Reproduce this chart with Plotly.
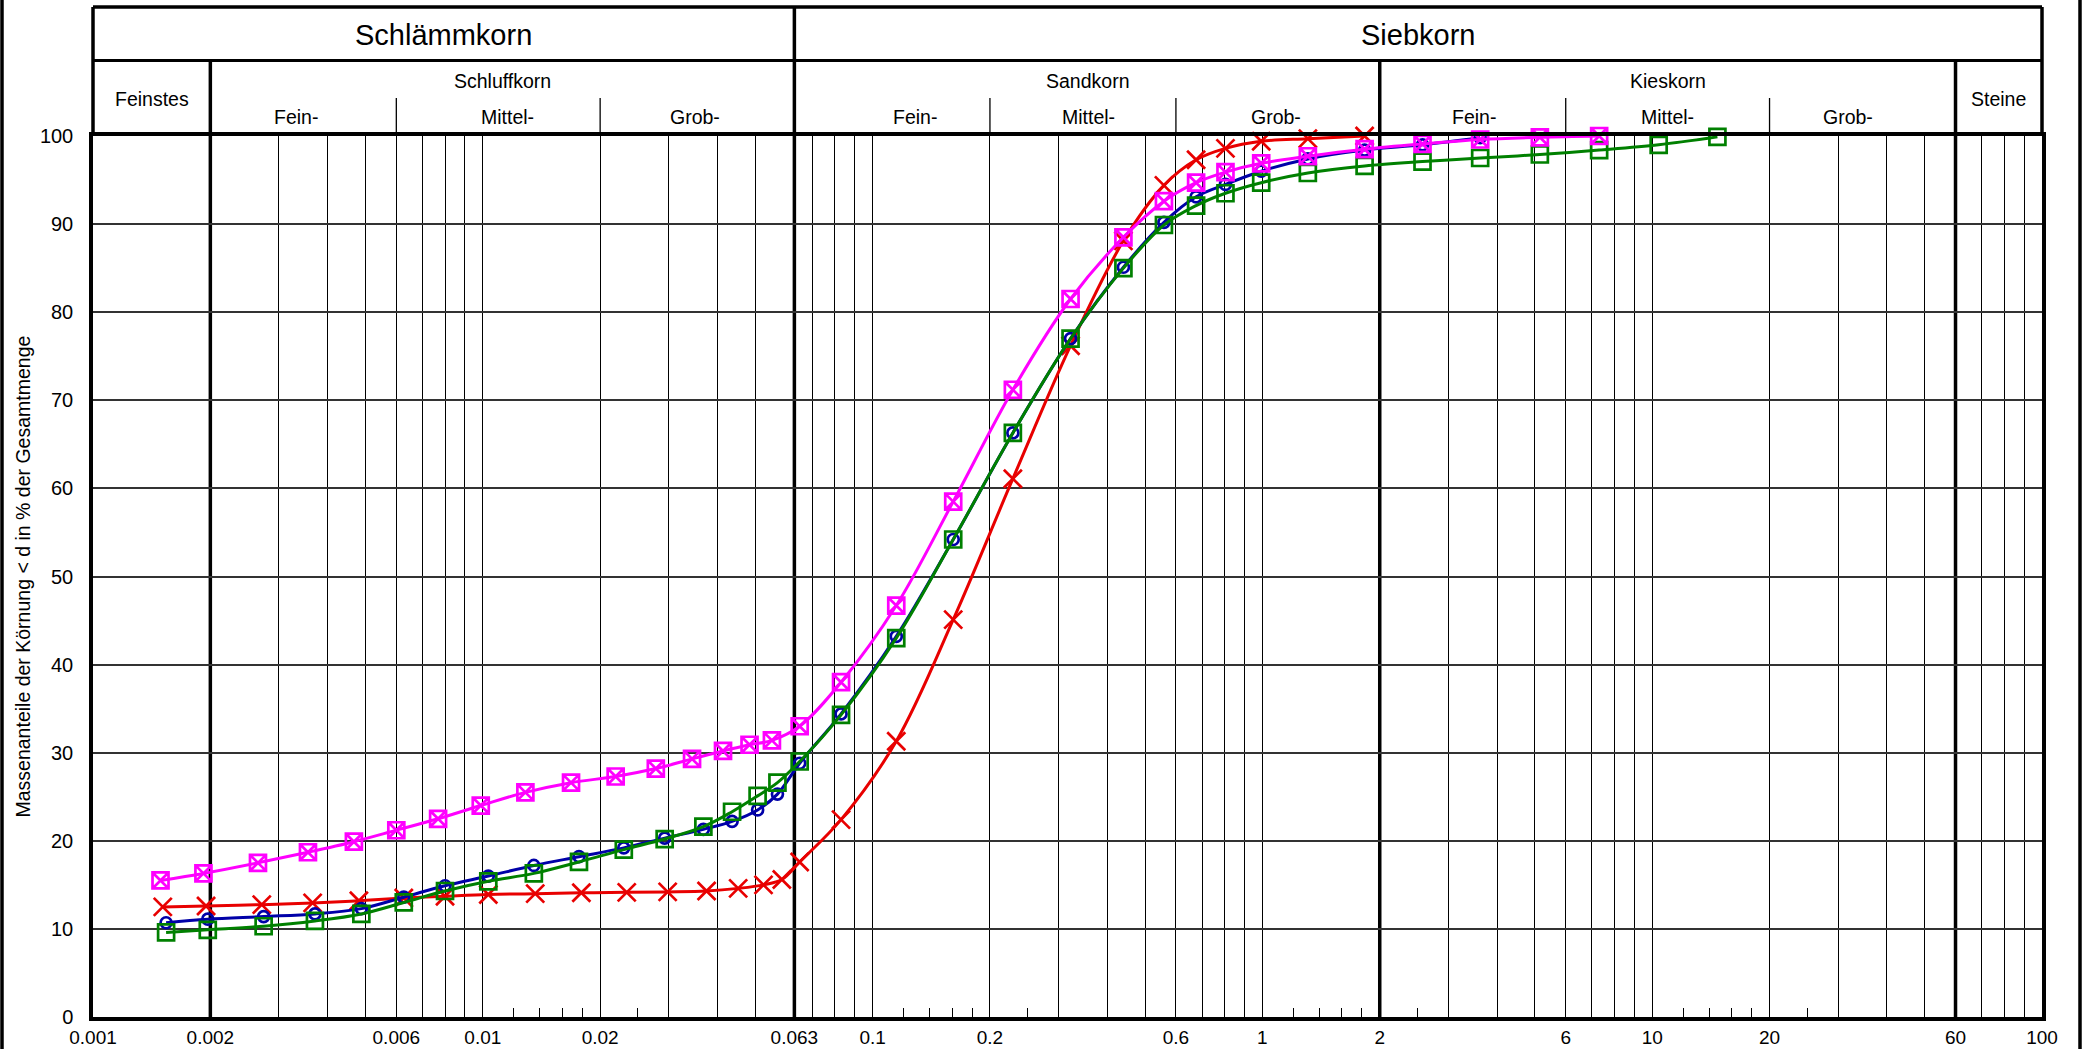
import math
import plotly.graph_objects as go

# ---------------------------------------------------------------- data
# hydrometer (Schlämmanalyse) grain diameters in mm
hydro_red = [0.00151, 0.00195, 0.00271, 0.00366, 0.00481, 0.00627, 0.0080, 0.01033,
             0.01363, 0.0179, 0.0234, 0.0298, 0.0375, 0.0452, 0.0525, 0.0585]
hydro_magenta = [0.00149, 0.00192, 0.00265, 0.00356, 0.00467, 0.0060, 0.00768, 0.00988,
                 0.01286, 0.01684, 0.02192, 0.02779, 0.03442, 0.04133, 0.04834, 0.05517]
hydro_blue_green = [0.00154, 0.00197, 0.00274, 0.00371, 0.00488, 0.00627, 0.0080, 0.01033,
                    0.01352, 0.01765, 0.0230, 0.02928, 0.0368, 0.0436, 0.0507, 0.0570]

# sieve (Siebanalyse) mesh sizes in mm
sieve_sizes = [0.065, 0.083, 0.115, 0.161, 0.229, 0.322, 0.44, 0.559, 0.676, 0.804,
               0.993, 1.308, 1.829, 2.575, 3.62, 5.15, 7.31, 10.39, 14.7]

# passing percentages (Massenanteile < d in %)
pass_red = [12.5, 12.6, 12.75, 12.95, 13.2, 13.5, 13.7, 13.9, 14.0, 14.1, 14.15, 14.2,
            14.3, 14.6, 15.0, 15.6,
            17.6, 22.4, 31.3, 45.1, 61.1, 76.2, 88.1, 94.4, 97.3, 98.6, 99.4, 99.7, 100.0]
pass_magenta = [15.5, 16.3, 17.5, 18.7, 19.9, 21.2, 22.5, 24.0, 25.5, 26.6, 27.3, 28.2,
                29.3, 30.2, 30.9, 31.4,
                33.0, 38.0, 46.7, 58.5, 71.2, 81.5, 88.5, 92.6, 94.7, 95.9, 96.9, 97.7,
                98.5, 99.1, 99.6, 99.85, 100.0]
pass_blue = [10.7, 11.1, 11.4, 11.7, 12.3, 13.6, 14.9, 16.0, 17.2, 18.2, 19.2, 20.3,
             21.3, 22.2, 23.5, 25.3,
             28.8, 34.4, 43.2, 54.2, 66.3, 77.0, 85.1, 90.2, 93.1, 94.5, 96.0, 97.4,
             98.4, 99.0, 99.8]
pass_green = [9.6, 9.9, 10.3, 10.9, 11.7, 13.0, 14.3, 15.4, 16.3, 17.6, 19.0, 20.2,
              21.6, 23.3, 25.1, 26.6,
              29.0, 34.3, 43.0, 54.2, 66.3, 77.0, 85.0, 89.9, 92.1, 93.5, 94.7, 95.8,
              96.6, 97.1, 97.5, 97.9, 98.4, 99.0, 99.9]

# x axis: labelled values, grid lines and small ticks
x_labels = [0.001, 0.002, 0.006, 0.01, 0.02, 0.063, 0.1, 0.2, 0.6, 1, 2, 6, 10, 20, 60, 100]
x_label_text = ["0.001", "0.002", "0.006", "0.01", "0.02", "0.063", "0.1", "0.2", "0.6",
                "1", "2", "6", "10", "20", "60", "100"]
x_grid = [0.003, 0.004, 0.005, 0.006, 0.007, 0.008, 0.009,
          0.01, 0.02, 0.03, 0.04, 0.05, 0.07, 0.08, 0.09,
          0.1, 0.2, 0.3, 0.4, 0.5, 0.6, 0.7, 0.8, 0.9,
          1, 3, 4, 5, 6, 7, 8, 9,
          10, 20, 30, 40, 50, 70, 80, 90]
x_small_ticks = [0.012, 0.014, 0.016, 0.018, 0.025, 0.12, 0.14, 0.16, 0.18, 0.25,
                 1.2, 1.4, 1.6, 1.8, 2.5, 12, 14, 16, 18, 25]
x_bold = [0.002, 0.063, 2, 60]          # boundaries of the soil classes
y_ticks = [0, 10, 20, 30, 40, 50, 60, 70, 80, 90, 100]

# header of the grain-size chart
header_main = [("Schlämmkorn", 0.001, 0.063), ("Siebkorn", 0.063, 100)]
header_groups = [("Feinstes", 0.001, 0.002, "low"), ("Schluffkorn", 0.002, 0.063, "high"),
                 ("Sandkorn", 0.063, 2, "high"), ("Kieskorn", 2, 60, "high"),
                 ("Steine", 60, 100, "low")]
header_sub_labels = ["Fein-", "Mittel-", "Grob-", "Fein-", "Mittel-", "Grob-",
                     "Fein-", "Mittel-", "Grob-"]
header_sub_pos = [0.00332, 0.01157, 0.0350, 0.1287, 0.357, 1.086, 3.48, 10.93, 31.8]
header_sub_dividers = [0.006, 0.02, 0.2, 0.6, 6, 20]

# ---------------------------------------------------------------- layout
W, H = 2083, 1049
ML, MR, MT, MB = 93, 41, 136, 32
PH = H - MT - MB
PW = W - ML - MR


def py(px):
    """pixel row (from top of page) -> paper y"""
    return (H - MB - px) / PH


def pxx(px):
    """pixel column -> paper x"""
    return (px - ML) / PW


FONT = "Liberation Sans, Arial, sans-serif"

fig = go.Figure()

series = [
    ("red", hydro_red + sieve_sizes[:len(pass_red) - len(hydro_red)], pass_red,
     "#e80000", dict(symbol="x-thin-open", size=18)),
    ("blue", hydro_blue_green + sieve_sizes[:len(pass_blue) - len(hydro_blue_green)], pass_blue,
     "#0000a8", dict(symbol="circle-open", size=11)),
    ("green", hydro_blue_green + sieve_sizes[:len(pass_green) - len(hydro_blue_green)], pass_green,
     "#008000", dict(symbol="square-open", size=16)),
    ("magenta", hydro_magenta + sieve_sizes[:len(pass_magenta) - len(hydro_magenta)], pass_magenta,
     "#ff00ff", dict(symbol="square-x-open", size=16)),
]
for name, xs, ys, col, mk in series:
    fig.add_trace(go.Scatter(
        x=xs, y=ys, name=name, mode="lines+markers",
        line=dict(color=col, width=3, shape="spline", smoothing=1.0),
        marker=dict(symbol=mk["symbol"], size=mk["size"], color=col,
                    line=dict(color=col, width=2.7)),
        showlegend=False, cliponaxis=False,
    ))

shapes = []
# bold class boundaries inside the plot
for v in x_bold:
    shapes.append(dict(type="line", xref="x", yref="paper", x0=v, x1=v, y0=0, y1=1,
                       line=dict(color="black", width=3.5), layer="below"))
# header frame
top = py(7)
row = py(60.5)
sub_top = py(98)
shapes.append(dict(type="line", xref="paper", yref="paper", x0=0, x1=1, y0=top, y1=top,
                   line=dict(color="black", width=3.5)))
shapes.append(dict(type="line", xref="paper", yref="paper", x0=0, x1=1, y0=row, y1=row,
                   line=dict(color="black", width=3)))
for xe in (0, 1):
    shapes.append(dict(type="line", xref="paper", yref="paper", x0=xe, x1=xe, y0=1, y1=top,
                       line=dict(color="black", width=3.5)))
shapes.append(dict(type="line", xref="x", yref="paper", x0=0.063, x1=0.063, y0=1, y1=top,
                   line=dict(color="black", width=3.5)))
for v in (0.002, 2, 60):
    shapes.append(dict(type="line", xref="x", yref="paper", x0=v, x1=v, y0=1, y1=row,
                       line=dict(color="black", width=3.5)))
for v in header_sub_dividers:
    shapes.append(dict(type="line", xref="x", yref="paper", x0=v, x1=v, y0=1, y1=sub_top,
                       line=dict(color="black", width=1.3)))
# page frame on both sides
for xp in (pxx(2), pxx(2080)):
    shapes.append(dict(type="line", xref="paper", yref="paper", x0=xp, x1=xp,
                       y0=0 - MB / PH, y1=1 + MT / PH, line=dict(color="black", width=3.5)))

annotations = []
for text, a, b in header_main:
    annotations.append(dict(text=text, xref="x", yref="paper",
                            x=(math.log10(a) + math.log10(b)) / 2, y=py(35),
                            xanchor="center", yanchor="middle",
                            showarrow=False, font=dict(family=FONT, size=29, color="black")))
for text, a, b, lvl in header_groups:
    annotations.append(dict(text=text, xref="x", yref="paper",
                            x=(math.log10(a) + math.log10(b)) / 2,
                            y=py(81) if lvl == "high" else py(99),
                            xanchor="center", yanchor="middle",
                            showarrow=False, font=dict(family=FONT, size=19.5, color="black")))
for text, v in zip(header_sub_labels, header_sub_pos):
    annotations.append(dict(text=text, xref="x", yref="paper", x=math.log10(v), y=py(117),
                            xanchor="center", yanchor="middle",
                            showarrow=False, font=dict(family=FONT, size=19.5, color="black")))
annotations.append(dict(text="Massenanteile der Körnung < d in % der Gesamtmenge",
                        xref="paper", yref="paper", x=pxx(22), y=0.5, textangle=-90,
                        xanchor="center", yanchor="middle",
                        showarrow=False, font=dict(family=FONT, size=19.5, color="black")))

fig.update_layout(
    width=W, height=H,
    margin=dict(l=ML, r=MR, t=MT, b=MB, pad=0, autoexpand=False),
    paper_bgcolor="white", plot_bgcolor="white",
    shapes=shapes, annotations=annotations,
    font=dict(family=FONT, size=20, color="black"),
    xaxis=dict(
        type="log", range=[-3, 2], automargin=False,
        tickmode="array",
        tickvals=x_labels + x_grid,
        ticktext=x_label_text + [""] * len(x_grid),
        showgrid=True, gridcolor="black", gridwidth=1.1,
        ticks="", showline=True, linecolor="black", linewidth=3.5, mirror=True,
        tickfont=dict(family=FONT, size=19, color="black"),
        minor=dict(tickmode="array", tickvals=x_small_ticks, ticks="inside", ticklen=9,
                   tickwidth=1.3, tickcolor="black", showgrid=False),
        zeroline=False,
    ),
    yaxis=dict(
        range=[0, 100], tickmode="array", tickvals=y_ticks, automargin=False,
        showgrid=True, gridcolor="#333333", gridwidth=1.8,
        # invisible outside ticks keep the labels clear of the frame
        ticks="outside", ticklen=12, tickcolor="rgba(0,0,0,0)",
        showline=True, linecolor="black", linewidth=3.5, mirror=True,
        tickfont=dict(family=FONT, size=20, color="black"),
        zeroline=False,
    ),
)

fig.write_html("out.html")
